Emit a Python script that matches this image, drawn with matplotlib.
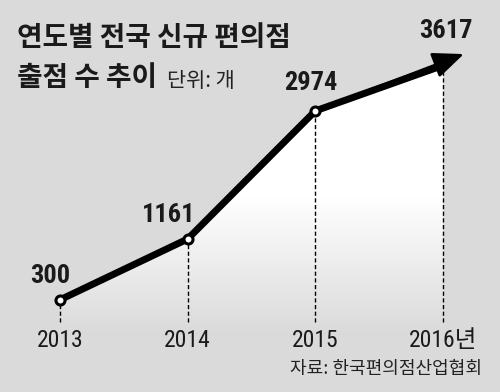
import matplotlib
matplotlib.use("Agg")
import numpy as np
import matplotlib.pyplot as plt
from matplotlib.patches import Polygon
from matplotlib.colors import LinearSegmentedColormap

# 데이터
years = [2013, 2014, 2015, 2016]
stores = [300, 1161, 2974, 3617]
year_labels = ["2013", "2014", "2015", "2016년"]

title1 = "연도별 전국 신규 편의점"
title2 = "출점 수 추이"
unit = "단위: 개"
source = "자료: 한국편의점산업협회"

BG = "#dadada"
NUM_FONT = ["Roboto Condensed", "Archivo Narrow", "Liberation Sans Narrow", "Noto Sans CJK KR"]
KR_FONT = ["Noto Sans CJK KR", "DejaVu Sans"]

fig = plt.figure(figsize=(5, 3.92), dpi=100, facecolor=BG)
ax = fig.add_axes([0, 0, 1, 1])
ax.set_facecolor(BG)
ax.set_xlim(2012.53, 2016.446)
ax.set_ylim(-1005, 4543)
ax.set_axis_off()

# 선 아래 그라데이션 채우기
floor = -1005
poly = Polygon([(years[0], floor)] + list(zip(years, stores)) + [(years[-1], floor)],
               closed=True, facecolor="none", edgecolor="none")
ax.add_patch(poly)
grad = np.linspace(0, 1, 256).reshape(-1, 1)
cmap = LinearSegmentedColormap.from_list("g", ["#ffffff", "#ffffff", BG])
img = ax.imshow(grad, cmap=cmap, aspect="auto", extent=(years[0], years[-1], -200, 3700),
                origin="upper", zorder=1)
img.set_clip_path(poly)

# 점선
for x, v in zip(years, stores):
    ax.plot([x, x], [-15, v], color="black", lw=1.0, ls=(0, (3, 1.8)), zorder=2)

# 화살표 끝 (마지막 구간 방향으로 연장)
p1 = ax.transData.transform((years[-2], stores[-2]))
p2 = ax.transData.transform((years[-1], stores[-1]))
d = (p2 - p1) / np.hypot(*(p2 - p1))
tip = ax.transData.inverted().transform(p2 + d * 22 + np.array([0, 4]))

ax.plot(years, stores, color="black", lw=5, solid_capstyle="butt", zorder=3)
ax.annotate("", xy=tip, xytext=(years[-2], stores[-2]),
            arrowprops=dict(arrowstyle="-|>,head_length=1.9,head_width=0.8",
                            mutation_scale=10, lw=2, color="black",
                            shrinkA=0, shrinkB=0), zorder=3)
ax.plot(years[:3], stores[:3], ls="none", marker="o", ms=6.5, mew=2.2,
        mfc="white", mec="black", zorder=4)

# 값 라벨
offsets = [(-7, 17), (-14, 17), (-3, 20), (2, 25)]
for x, v, (dx, dy) in zip(years, stores, offsets):
    ax.annotate(f"{v}", (x, v), xytext=(dx, dy), textcoords="offset points",
                ha="center", va="center", fontsize=19, family=NUM_FONT,
                fontweight="bold", color="#1a1a1a", zorder=5)

# 연도 라벨
for x, lab in zip(years, year_labels):
    ax.annotate(lab, (x, -15), xytext=(0, -13), textcoords="offset points",
                ha="center", va="center", fontsize=17, family=NUM_FONT,
                color="#1a1a1a")

# 제목
fig.text(17 / 500, 1 - 38 / 392, title1, ha="left", va="center", fontsize=20,
         fontweight="bold", family=KR_FONT, color="#1a1a1a")
fig.text(17 / 500, 1 - 78 / 392, title2, ha="left", va="center", fontsize=20,
         fontweight="bold", family=KR_FONT, color="#1a1a1a")
fig.text(167 / 500, 1 - 81 / 392, unit, ha="left", va="center", fontsize=15,
         family=KR_FONT, color="#222222")
fig.text(482 / 500, 1 - 369 / 392, source, ha="right", va="center", fontsize=13,
         family=KR_FONT, color="#222222")

fig.savefig("out.png", dpi=100, facecolor=BG)
